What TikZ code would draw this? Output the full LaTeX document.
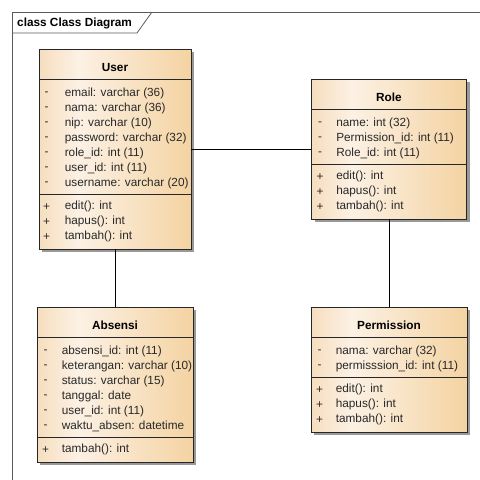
\documentclass[tikz,border=0pt]{standalone}
\usepackage{fontspec}
\setmainfont{Liberation Sans}
\usetikzlibrary{shadows}
\definecolor{umlleft}{RGB}{246,222,190}
\definecolor{umlmid}{RGB}{252,241,228}
\definecolor{umlright}{RGB}{244,211,162}
\definecolor{umltext}{RGB}{40,40,40}
\definecolor{umlframe}{RGB}{90,90,90}
\pgfdeclarehorizontalshading{umlfill}{100bp}{color(0bp)=(umlleft); color(25bp)=(umlleft); color(38bp)=(umlmid); color(75bp)=(umlright); color(100bp)=(umlright)}

\begin{document}
\begin{tikzpicture}[x=1pt,y=-1pt,
  classbox/.style={draw=black!85,line width=0.8pt,shading=umlfill,inner sep=0pt,
    drop shadow={shadow xshift=3pt,shadow yshift=-3pt,fill=black!40,opacity=1}},
  ctitle/.style={font=\fontsize{11.8}{13}\selectfont\bfseries,inner sep=0pt},
  member/.style={font=\fontsize{11.8}{13}\selectfont,text=umltext,anchor=west,inner sep=0pt},
  vis/.style={font=\fontsize{11.8}{13}\selectfont,text=umltext,inner sep=0pt},
  sep/.style={draw=black!85,line width=0.8pt},
  link/.style={draw=black,line width=0.8pt}]
  \useasboundingbox (0,0) rectangle (480,480);
  % frame
  \draw[umlframe,line width=0.8pt] (12,480) -- (12,12) -- (480,12);
  \node[ctitle,anchor=west] (frametitle) at (17,23) {class Class Diagram};
  \draw[umlframe,line width=0.8pt] (12,33) -- (137,33) -- (152,12);

  % User
  \node[classbox,minimum width=152pt,minimum height=200pt] (user) at (115,149) {};
  \node[ctitle] (user-name) at ([yshift=-19pt]user.north) {User};
  \draw[sep] ([yshift=-31pt]user.north west) -- ([yshift=-31pt]user.north east);
  \draw[sep] ([yshift=-146pt]user.north west) -- ([yshift=-146pt]user.north east);
  \foreach \t [count=\i from 0] in {email: varchar (36), nama: varchar (36), nip: varchar (10),
      password: varchar (32), role\_id: int (11), user\_id: int (11), username: varchar (20)} {
    \node[vis] (user-v\i) at ([xshift=8pt,yshift={-(45+15*\i)*1pt}]user.north west) {-};
    \node[member] (user-a\i) at ([xshift=26pt,yshift={-(45+15*\i)*1pt}]user.north west) {\t};
  }
  \foreach \t [count=\i from 0] in {edit(): int, hapus(): int, tambah(): int} {
    \node[vis] (user-p\i) at ([xshift=8pt,yshift={-(158+15*\i)*1pt}]user.north west) {+};
    \node[member] (user-m\i) at ([xshift=26pt,yshift={-(158+15*\i)*1pt}]user.north west) {\t};
  }

  % Role
  \node[classbox,minimum width=155pt,minimum height=140pt] (role) at (389,149) {};
  \node[ctitle] (role-name) at ([yshift=-19pt]role.north) {Role};
  \draw[sep] ([yshift=-31pt]role.north west) -- ([yshift=-31pt]role.north east);
  \draw[sep] ([yshift=-86pt]role.north west) -- ([yshift=-86pt]role.north east);
  \foreach \t [count=\i from 0] in {name: int (32), Permission\_id: int (11), Role\_id: int (11)} {
    \node[vis] (role-v\i) at ([xshift=9pt,yshift={-(45+15*\i)*1pt}]role.north west) {-};
    \node[member] (role-a\i) at ([xshift=25pt,yshift={-(45+15*\i)*1pt}]role.north west) {\t};
  }
  \foreach \t [count=\i from 0] in {edit(): int, hapus(): int, tambah(): int} {
    \node[vis] (role-p\i) at ([xshift=9pt,yshift={-(98+15*\i)*1pt}]role.north west) {+};
    \node[member] (role-m\i) at ([xshift=25pt,yshift={-(98+15*\i)*1pt}]role.north west) {\t};
  }

  % Absensi
  \node[classbox,minimum width=156pt,minimum height=155pt] (absensi) at (115,384.5) {};
  \node[ctitle] (absensi-name) at ([yshift=-19pt]absensi.north) {Absensi};
  \draw[sep] ([yshift=-31pt]absensi.north west) -- ([yshift=-31pt]absensi.north east);
  \draw[sep] ([yshift=-131pt]absensi.north west) -- ([yshift=-131pt]absensi.north east);
  \foreach \t [count=\i from 0] in {absensi\_id: int (11), keterangan: varchar (10), status: varchar (15),
      tanggal: date, user\_id: int (11), waktu\_absen: datetime} {
    \node[vis] (absensi-v\i) at ([xshift=9pt,yshift={-(45+15*\i)*1pt}]absensi.north west) {-};
    \node[member] (absensi-a\i) at ([xshift=25pt,yshift={-(45+15*\i)*1pt}]absensi.north west) {\t};
  }
  \node[vis] (absensi-p0) at ([xshift=9pt,yshift=-143pt]absensi.north west) {+};
  \node[member] (absensi-m0) at ([xshift=25pt,yshift=-143pt]absensi.north west) {tambah(): int};

  % Permission
  \node[classbox,minimum width=156pt,minimum height=125pt] (permission) at (389,369.5) {};
  \node[ctitle] (permission-name) at ([yshift=-19pt]permission.north) {Permission};
  \draw[sep] ([yshift=-31pt]permission.north west) -- ([yshift=-31pt]permission.north east);
  \draw[sep] ([yshift=-71pt]permission.north west) -- ([yshift=-71pt]permission.north east);
  \foreach \t [count=\i from 0] in {nama: varchar (32), permisssion\_id: int (11)} {
    \node[vis] (permission-v\i) at ([xshift=9pt,yshift={-(45+15*\i)*1pt}]permission.north west) {-};
    \node[member] (permission-a\i) at ([xshift=25pt,yshift={-(45+15*\i)*1pt}]permission.north west) {\t};
  }
  \foreach \t [count=\i from 0] in {edit(): int, hapus(): int, tambah(): int} {
    \node[vis] (permission-p\i) at ([xshift=9pt,yshift={-(83+15*\i)*1pt}]permission.north west) {+};
    \node[member] (permission-m\i) at ([xshift=25pt,yshift={-(83+15*\i)*1pt}]permission.north west) {\t};
  }

  % links
  \draw[link] (user) -- (role);
  \draw[link] (user) -- (absensi);
  \draw[link] (role) -- (permission);
\end{tikzpicture}
\end{document}
